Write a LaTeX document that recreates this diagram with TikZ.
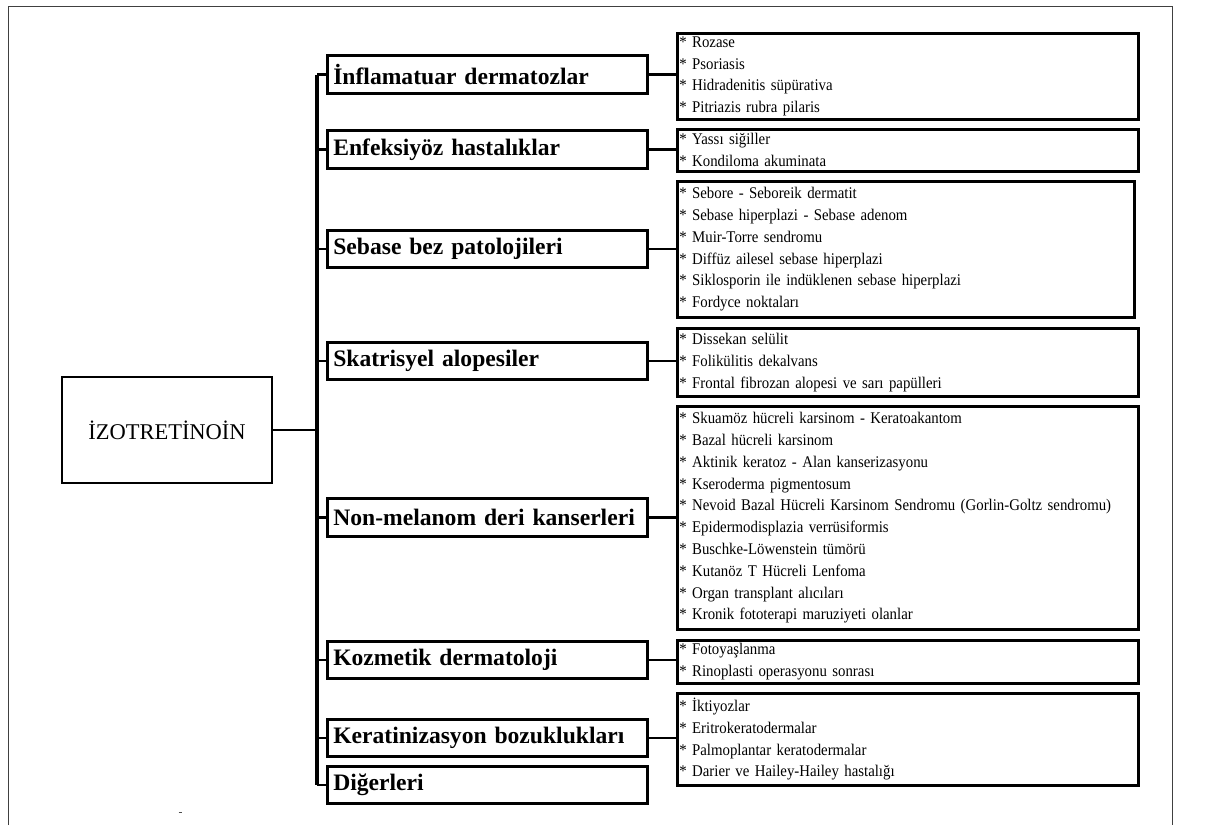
\documentclass[tikz,border=0pt]{standalone}
\usepackage{fontspec}
\setmainfont{Liberation Serif}
\newfontfamily\listfont[FakeStretch=0.91]{Liberation Serif}
\begin{document}
\begin{tikzpicture}[x=1pt,y=-1pt,
  frame/.style={draw=black!75, line width=1pt},
  rootbox/.style={draw, line width=2.4pt, minimum width=210pt, minimum height=106pt, inner sep=0pt, font=\fontsize{22.5}{26}\selectfont},
  mbox/.style={draw, line width=2.6pt, minimum width=320pt, minimum height=37.5pt, text width=308pt, inner xsep=6pt, inner ysep=0pt, align=left, anchor=west, font=\bfseries\fontsize{23.6}{27}\selectfont},
  rbox/.style={draw, line width=2.6pt, anchor=north west, minimum width=461pt, text width=457pt, inner xsep=2pt, inner ysep=0pt, align=left, font=\listfont\fontsize{16.3}{21.8}\selectfont},
  conn/.style={line width=2.6pt},
  trunk/.style={line width=3.2pt}]
\useasboundingbox (0,0) rectangle (1232,825);
% outer frame (open at bottom)
\draw[frame] (8,825) -- (8,6) -- (1172,6) -- (1172,825);
\draw[black!70, line width=0.8pt] (178.5,812) -- (181.5,812);

% root
\node[rootbox] (root) at (167,430) {İZOTRETİNOİN};

% middle boxes
\node[mbox] (m1) at (326,74.5) {İnflamatuar dermatozlar};
\node[mbox] (m2) at (326,149.5) {Enfeksiyöz hastalıklar};
\node[mbox] (m3) at (326,249) {Sebase bez patolojileri};
\node[mbox] (m4) at (326,361) {Skatrisyel alopesiler};
\node[mbox] (m5) at (326,517.5) {Non-melanom deri kanserleri};
\node[mbox] (m6) at (326,660) {Kozmetik dermatoloji};
\node[mbox] (m7) at (326,738) {Keratinizasyon bozuklukları};
\node[mbox] (m8) at (326,785) {Diğerleri};

% right boxes
\node[rbox, minimum height=86pt] (r1) at (676,32) {* Rozase\\{}* Psoriasis\\{}* Hidradenitis süpürativa\\{}* Pitriazis rubra pilaris};
\node[rbox, minimum height=42pt] (r2) at (676,128) {* Yassı siğiller\\{}* Kondiloma akuminata};
\node[rbox, minimum height=136pt, minimum width=457pt, text width=453pt] (r3) at (676,180) {* Sebore - Seboreik dermatit\\{}* Sebase hiperplazi - Sebase adenom\\{}* Muir-Torre sendromu\\{}* Diffüz ailesel sebase hiperplazi\\{}* Siklosporin ile indüklenen sebase hiperplazi\\{}* Fordyce noktaları};
\node[rbox, minimum height=68pt] (r4) at (676,327) {* Dissekan selülit\\{}* Folikülitis dekalvans\\{}* Frontal fibrozan alopesi ve sarı papülleri};
\node[rbox, minimum height=223pt] (r5) at (676,405) {* Skuamöz hücreli karsinom - Keratoakantom\\{}* Bazal hücreli karsinom\\{}* Aktinik keratoz - Alan kanserizasyonu\\{}* Kseroderma pigmentosum\\{}* Nevoid Bazal Hücreli Karsinom Sendromu (Gorlin-Goltz sendromu)\\{}* Epidermodisplazia verrüsiformis\\{}* Buschke-Löwenstein tümörü\\{}* Kutanöz T Hücreli Lenfoma\\{}* Organ transplant alıcıları\\{}* Kronik fototerapi maruziyeti olanlar};
\node[rbox, minimum height=43pt] (r6) at (676,639) {* Fotoyaşlanma\\{}* Rinoplasti operasyonu sonrası};
\node[rbox, minimum height=92pt] (r7) at (676,692) {* İktiyozlar\\{}* Eritrokeratodermalar\\{}* Palmoplantar keratodermalar\\{}* Darier ve Hailey-Hailey hastalığı};

% trunk
\coordinate (ttop) at (317,74.5);
\coordinate (tbot) at (317,785);
\coordinate (troot) at (317,430);
\draw[trunk] (ttop) -- (tbot);
\draw[conn] (root.east) -- (troot);
\foreach \m in {m1,m2,m3,m4,m5,m6,m7,m8}{
  \draw[conn] (\m.west -| ttop) -- (\m.west);
}
% middle to right
\foreach \m/\r in {m1/r1,m2/r2,m3/r3,m4/r4,m5/r5,m6/r6,m7/r7}{
  \draw[conn] (\m.east) -- (\m.east -| \r.west);
}
\end{tikzpicture}
\end{document}
